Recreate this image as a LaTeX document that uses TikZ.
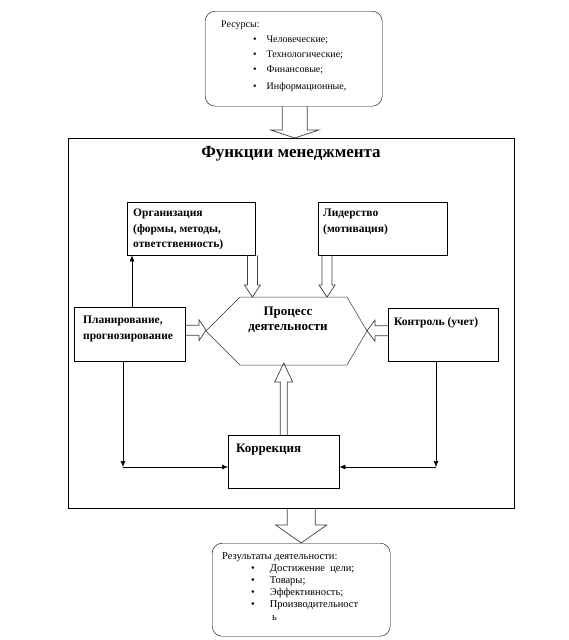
\documentclass[tikz,border=0pt]{standalone}
\usepackage{fontspec}
\setmainfont{Liberation Serif}
\usepackage{tikz}
\usetikzlibrary{shapes, arrows.meta, positioning, calc}

% hollow block arrow, vertical: from, to, half shaft, half head, head length
\newcommand{\vblock}[5]{%
  \draw[blk] let \p1=(#1), \p2=(#2), \n1={sign(\y2-\y1)} in
    (\x1-#3,\y1) -- (\x1-#3,\y2-\n1*#5) -- (\x1-#4,\y2-\n1*#5) -- (\x1,\y2)
    -- (\x1+#4,\y2-\n1*#5) -- (\x1+#3,\y2-\n1*#5) -- (\x1+#3,\y1);}
% hollow block arrow, horizontal
\newcommand{\hblock}[5]{%
  \draw[blk] let \p1=(#1), \p2=(#2), \n1={sign(\x2-\x1)} in
    (\x1,\y1-#3) -- (\x2-\n1*#5,\y1-#3) -- (\x2-\n1*#5,\y1-#4) -- (\x2,\y1)
    -- (\x2-\n1*#5,\y1+#4) -- (\x2-\n1*#5,\y1+#3) -- (\x1,\y1+#3);}
\newcommand{\blt}[2]{\hspace*{#1}\textbullet\hspace{#2}}

\begin{document}
\begin{tikzpicture}[x=1pt, y=-1pt,
    box/.style={draw, rectangle, anchor=north west, inner sep=0pt},
    rbox/.style={draw, rounded corners=10pt, anchor=north west, inner sep=0pt},
    txt/.style={inner sep=0pt, align=left, font=\fontsize{11.5}{15.5}\selectfont\bfseries},
    lst/.style={inner sep=0pt, align=left},
    blk/.style={draw=black!75, line width=0.7pt},
    ln/.style={-{Latex[length=6pt, width=5pt]}, line width=0.6pt}]

    \useasboundingbox (0,0) rectangle (568,640);

    % Resources
    \node[rbox, minimum width=177pt, minimum height=95pt] (res) at (205,11) {};
    \node[lst, font=\fontsize{10}{15}\selectfont, below right=10pt and 16pt of res.north west] (restxt)
        {Ресурсы:\\ \blt{32pt}{10pt}Человеческие;\\ \blt{32pt}{10pt}Технологические;\\ \blt{32pt}{10pt}Финансовые;\\[2pt] \blt{32pt}{10pt}Информационные,};

    % Frame
    \node[box, minimum width=446pt, minimum height=370pt] (frame) at (68,138) {};
    \node[font=\fontsize{17}{20}\selectfont\bfseries] (title) at (291,154) {Функции менеджмента};
    \vblock{$(res.south)+(1,0)$}{frame.north}{12.5}{24}{8}

    % Organisation, leadership
    \node[box, minimum width=128pt, minimum height=53pt] (org) at (127,202) {};
    \node[txt, below right=7pt and 6pt of org.north west] (orgtxt) {Организация\\(формы, методы,\\ответственность)};
    \node[box, minimum width=129pt, minimum height=53pt] (lid) at (318,202) {};
    \node[txt, below right=7pt and 5pt of lid.north west] (lidtxt) {Лидерство\\(мотивация)};

    % Process
    \coordinate (hl) at (206,331);
    \coordinate (hr) at (367,331);
    \coordinate (htl) at (240,297);
    \coordinate (htr) at (347,297);
    \coordinate (hbl) at (240,365);
    \coordinate (hbr) at (347,365);
    \draw[black!80, line width=0.5pt] (hl) -- (htl) -- (htr) -- (hr) -- (hbr) -- (hbl) -- cycle;
    \node[txt, align=center, font=\fontsize{13}{15}\selectfont\bfseries] (proc) at (288,320) {Процесс\\деятельности};
    \vblock{$(org.south east)+(-3,0)$}{htl}{5}{8}{12}
    \vblock{$(lid.south west)+(9,0)$}{htr}{5}{8}{12}

    % Planning, control
    \node[box, minimum width=111pt, minimum height=54pt] (plan) at (74,307) {};
    \node[txt, below right=9pt and 9pt of plan.north west] (plantxt) {Планирование,\\прогнозирование};
    \node[box, minimum width=110pt, minimum height=53pt] (ctrl) at (388,308) {};
    \node[txt, below right=9pt and 6pt of ctrl.north west] (ctrltxt) {Контроль (учет)};
    \hblock{$(plan.east)+(0,-4)$}{hl}{5}{10.5}{7}
    \hblock{$(ctrl.west)+(0,-4)$}{hr}{5}{10.5}{8}

    % Correction
    \node[box, minimum width=111pt, minimum height=53pt] (korr) at (228,435) {};
    \node[txt, font=\fontsize{13}{15}\selectfont\bfseries, below right=9pt and 8pt of korr.north west] (korrtxt) {Коррекция};
    \vblock{korr.north}{$(hbl)+(0,-2)$}{3.5}{9}{19}

    % Lines
    \coordinate (lc) at (123,467);
    \coordinate (rc) at (436,467);
    \draw[ln] ($(plan.north west)+(58,0)$) -- ($(org.south west)+(5,0)$);
    \draw[ln] (plan.south -| lc) -- (lc);
    \draw[ln] (lc) -- (lc -| korr.west);
    \draw[ln] (ctrl.south -| rc) -- (rc);
    \draw[ln] (rc) -- (rc -| korr.east);

    % Results
    \node[rbox, minimum width=178pt, minimum height=93pt] (resl) at (212,543) {};
    \vblock{$(frame.south)+(10,0)$}{resl.north}{14}{25.5}{18}
    \node[lst, font=\fontsize{10.5}{12.2}\selectfont, below right=9pt and 10pt of resl.north west] (resltxt)
        {Результаты деятельности:\\ \blt{29pt}{15pt}Достижение\ \ цели;\\ \blt{29pt}{15pt}Товары;\\ \blt{29pt}{15pt}Эффективность;\\ \blt{29pt}{15pt}Производительност\\ \hspace*{50pt}ь};

\end{tikzpicture}
\end{document}
